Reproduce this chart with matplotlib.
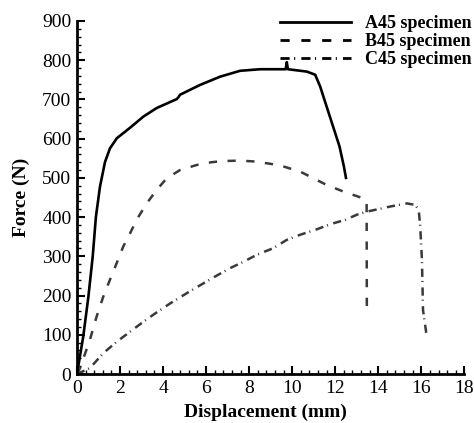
import matplotlib
matplotlib.use('Agg')
import matplotlib.pyplot as plt
from matplotlib.ticker import MultipleLocator

plt.rcParams['font.family'] = ['Liberation Serif', 'DejaVu Serif']

# A45 specimen
a_disp = [0, 0.29, 0.53, 0.73, 0.88, 1.07, 1.30, 1.53, 1.85, 2.47, 3.08, 3.70,
          4.64, 4.72, 4.79, 5.72, 6.65, 7.58, 8.51, 9.70, 9.75, 9.80, 10.68,
          11.07, 11.30, 11.60, 11.90, 12.20, 12.40, 12.50]
a_force = [0, 95, 197, 299, 401, 478, 540, 575, 601, 628, 656, 678,
           701, 706, 712, 737, 758, 773, 777, 777, 795, 777, 771,
           763, 733, 682, 631, 580, 530, 500]

# B45 specimen
b_disp = [0, 0.14, 0.60, 0.91, 1.22, 1.53, 1.84, 2.15, 2.47, 2.77, 3.24, 3.70,
          4.17, 4.79, 5.57, 6.26, 6.80, 7.58, 8.20, 8.98, 9.60, 10.37, 10.99,
          11.60, 12.39, 13.08, 13.40, 13.46, 13.47]
b_force = [0, 15, 87, 146, 197, 240, 282, 325, 359, 393, 435, 469,
           499, 520, 533, 540, 543, 544, 542, 536, 529, 516, 499,
           482, 465, 452, 446, 440, 150]

# C45 specimen
c_disp = [0, 0.60, 1.22, 1.84, 2.47, 3.08, 3.70, 4.33, 5.10, 5.87, 6.40, 7.12,
          7.73, 8.36, 9.13, 9.75, 10.37, 11.15, 11.77, 12.47, 13.00, 13.47,
          14.56, 15.33, 15.72, 15.88, 15.95, 16.03, 16.08, 16.23]
c_force = [0, 15, 53, 82, 108, 133, 157, 180, 206, 231, 248, 270,
           286, 304, 321, 342, 355, 369, 382, 393, 406, 414,
           427, 435, 431, 418, 376, 291, 163, 105]

fig = plt.figure(figsize=(4.74, 4.23), dpi=100)
ax = fig.add_axes([0.1624, 0.1158, 0.8172, 0.8346])

gray = '#3a3a3a'
ax.plot(a_disp, a_force, color='black', lw=1.9, label='A45 specimen')
ax.plot(b_disp, b_force, color=gray, lw=1.8, dashes=[3.3, 4.2], label='B45 specimen')
ax.plot(c_disp, c_force, color=gray, lw=1.8, dashes=[3.3, 1.6, 0.4, 2.2],
        label='C45 specimen')

ax.set_xlim(0, 18)
ax.set_ylim(0, 900)
ax.xaxis.set_major_locator(MultipleLocator(2))
ax.xaxis.set_minor_locator(MultipleLocator(0.4))
ax.yaxis.set_major_locator(MultipleLocator(100))
ax.yaxis.set_minor_locator(MultipleLocator(20))

for s in ['top', 'right']:
    ax.spines[s].set_visible(False)
for s in ['left', 'bottom']:
    ax.spines[s].set_linewidth(2)

ax.tick_params(which='major', direction='in', length=6, width=1.5, labelsize=14, pad=4)
ax.tick_params(which='minor', direction='in', length=3, width=1)

ax.set_xlabel('Displacement (mm)', fontsize=14, fontweight='bold')
ax.xaxis.set_label_coords(0.486, -0.083)
ax.set_ylabel('Force (N)', fontsize=14, fontweight='bold', labelpad=9)

leg = ax.legend(loc='upper left', bbox_to_anchor=(0.505, 1.037), frameon=False,
                prop={'size': 13, 'weight': 'bold'}, handlelength=3.93,
                handletextpad=0.78, labelspacing=0.06, borderaxespad=0)
for h in leg.get_lines():
    h.set_color('black')
    h.set_linewidth(2)

fig.savefig('out.png', dpi=100)
